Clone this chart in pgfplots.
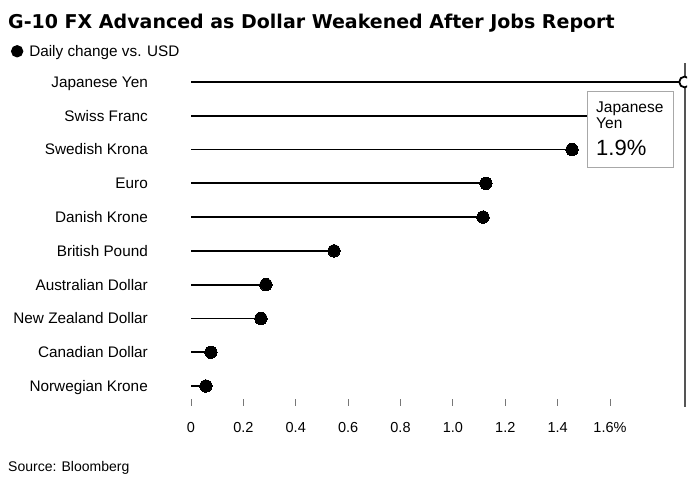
\documentclass[border=0pt]{standalone}
\usepackage{pgfplots}
\pgfplotsset{compat=1.18}
\usepackage{pgfplotstable}
\usepackage{fontspec}
\setmainfont{Liberation Sans}
\newfontfamily\titlefont{DejaVu Sans}
\definecolor{cursor}{HTML}{555555}
\definecolor{boxgray}{HTML}{A8A8A8}
\definecolor{tickgray}{HTML}{777777}
\pgfplotstableread{
pos value
0 0.057
1 0.076
2 0.267
3 0.286
4 0.546
5 1.115
6 1.126
7 1.455
8 1.68
}\fxdata
\begin{document}
\begin{tikzpicture}[x=1bp,y=1bp]
\path[use as bounding box] (0,0) rectangle (700,486);
\node[anchor=base west, inner sep=0, font=\titlefont\bfseries\fontsize{19bp}{22bp}\selectfont] at (8,457) {G-10 FX Advanced as Dollar Weakened After Jobs Report};
\draw[cursor, line width=1.6bp] (685,79) -- (685,423.3);
\begin{axis}[
  at={(191bp,87bp)}, anchor=south west, scale only axis,
  width=496bp, height=337bp,
  xmin=0, xmax=1.894, ymin=-0.385, ymax=9.592,
  clip marker paths=true,
  axis x line*=bottom, axis y line*=left,
  axis line style={draw=none},
  /pgf/number format/assume math mode=true,
  xtick={0,0.2,0.4,0.6,0.8,1.0,1.2,1.4,1.6},
  xticklabels={0,0.2,0.4,0.6,0.8,1.0,1.2,1.4,1.6\%},
  tick align=outside, major tick length=7bp,
  xtick style={draw=tickgray, line width=0.8bp},
  ytick={0,...,9},
  yticklabels={Norwegian Krone,Canadian Dollar,New Zealand Dollar,Australian Dollar,British Pound,Danish Krone,Euro,Swedish Krona,Swiss Franc,Japanese Yen},
  ytick style={draw=none},
  xticklabel style={font=\fontsize{14.5bp}{17bp}\selectfont, anchor=base, yshift=-27bp},
  yticklabel style={font=\fontsize{15.3bp}{18bp}\selectfont, anchor=base east, inner sep=0pt, xshift=-36bp, yshift=-5.4bp},
  legend style={draw=none, fill=none, inner sep=0pt, outer sep=0pt,
    at={(axis description cs:-0.3629,1.0318)}, anchor=west,
    font=\fontsize{15.3bp}{18bp}\selectfont, legend cell align=left,
    /tikz/every odd column/.append style={column sep=4bp}},
  legend image code/.code={\fill[black] (5.3bp,0bp) circle (5.3bp);},
]
\addplot[xcomb, black, line width=1.7bp, mark=*, mark size=6.2bp, mark options={line width=0pt, fill=black}] table[x=value, y=pos] {\fxdata};
\addlegendentry{Daily change vs. USD}
\addplot[xcomb, black, line width=1.7bp, mark=*, mark size=5.4bp, mark options={fill=white, line width=1.8bp}, forget plot] coordinates {(1.885,9)};
\end{axis}
\draw[boxgray, line width=0.9bp, fill=white] (587.7,318.3) rectangle (673,395);
\node[anchor=base west, inner sep=0, font=\fontsize{15.5bp}{18bp}\selectfont] at (596,373) {Japanese};
\node[anchor=base west, inner sep=0, font=\fontsize{15.5bp}{18bp}\selectfont] at (596,357) {Yen};
\node[anchor=base west, inner sep=0, font=\fontsize{22bp}{26bp}\selectfont] at (596,330.3) {1.9\%};
\node[anchor=base west, inner sep=0, font=\fontsize{14bp}{17bp}\selectfont] at (8,14) {Source: Bloomberg};
\end{tikzpicture}
\end{document}
